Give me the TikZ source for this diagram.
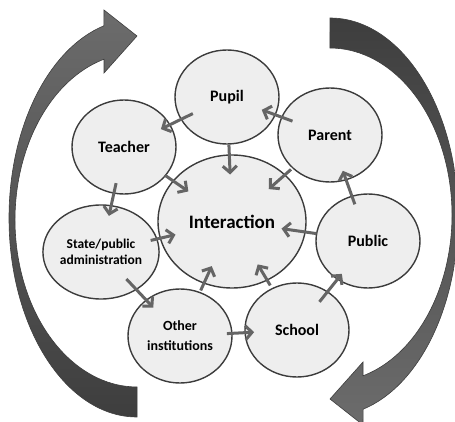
\documentclass[tikz,border=0pt]{standalone}
\usepackage{fontspec}
\setmainfont{Carlito}
\usetikzlibrary{shapes.geometric,arrows.meta}
\definecolor{circfill}{HTML}{EEEEEE}
\definecolor{circline}{HTML}{3C3C3C}
\definecolor{connc}{HTML}{656565}
\definecolor{bigdark}{HTML}{3E3E3E}
\definecolor{biglight}{HTML}{6C6C6C}
\tikzset{
  bub/.style={ellipse, draw=circline, line width=1.4pt, fill=circfill,
    minimum width=104pt, minimum height=94pt, inner sep=0pt, align=center,
    font=\bfseries\fontsize{16}{17}\selectfont},
  conn/.style={draw=connc, line width=3pt,
    -{Straight Barb[length=6.5pt,width=14pt,line width=3pt]}},
  bigarrow/.style={draw=bigdark, line width=0.6pt}
}
\begin{document}
\begin{tikzpicture}[x=1pt,y=-1pt]
\useasboundingbox (0,0) rectangle (455,422);
% big curved arrows
\path[bigarrow, top color=biglight, bottom color=bigdark]
  (137,417) arc[start angle=90, end angle=255, x radius=128, y radius=199]
  -- (104,10) -- (137,36) -- (104,73) -- (104,59.2)
  arc[start angle=254.3, end angle=90, x radius=122, y radius=167] -- cycle;
\path[bigarrow, top color=bigdark, bottom color=biglight]
  (330,18) arc[start angle=270, end angle=435, x radius=128, y radius=199]
  -- (363,425) -- (330,399) -- (363,362) -- (363,375.8)
  arc[start angle=434.3, end angle=270, x radius=122, y radius=167] -- cycle;
% nodes
\node[bub, minimum width=148pt, minimum height=133pt, font=\bfseries\fontsize{19}{20}\selectfont] (inter) at (232,221.5) {Interaction};
\node[bub] (pupil) at (227,97) {Pupil};
\node[bub] (teacher) at (124,147) {Teacher};
\node[bub] (parent) at (330,135) {Parent};
\node[bub] (public) at (368,241) {Public};
\node[bub] (school) at (297,330) {School};
\node[bub, font=\bfseries\fontsize{14}{20}\selectfont] (other) at (180,336) {Other\\institutions};
\node[bub, font=\bfseries\fontsize{13.5}{15.5}\selectfont] (state) at (101,252) {State/public\\administration};
% connectors
\draw[conn, shorten <=38pt, shorten >=41pt] (pupil.center) -- (teacher.center);
\draw[conn, shorten <=40pt, shorten >=37pt] (parent.center) -- (pupil.center);
\draw[conn, shorten <=48pt, shorten >=47pt] (pupil.center) -- (inter.center);
\draw[conn, shorten <=52pt, shorten >=49pt] (parent.center) -- (inter.center);
\draw[conn, shorten <=39pt, shorten >=38pt] (public.center) -- (parent.center);
\draw[conn, shorten <=50pt, shorten >=53pt] (teacher.center) -- (inter.center);
\draw[conn, shorten <=37pt, shorten >=37pt] (teacher.center) -- (state.center);
\draw[conn, shorten <=51pt, shorten >=58pt] (state.center) -- (inter.center);
\draw[conn, shorten <=37pt, shorten >=39pt] (state.center) -- (other.center);
\draw[conn, shorten <=50pt, shorten >=49pt] (other.center) -- (inter.center);
\draw[conn, shorten <=47pt, shorten >=43pt] (other.center) -- (school.center);
\draw[conn, shorten <=52pt, shorten >=50pt] (school.center) -- (inter.center);
\draw[conn, shorten <=36pt, shorten >=42pt] (school.center) -- (public.center);
\draw[conn, shorten <=52pt, shorten >=50pt] (public.center) -- (inter.center);
\end{tikzpicture}
\end{document}
